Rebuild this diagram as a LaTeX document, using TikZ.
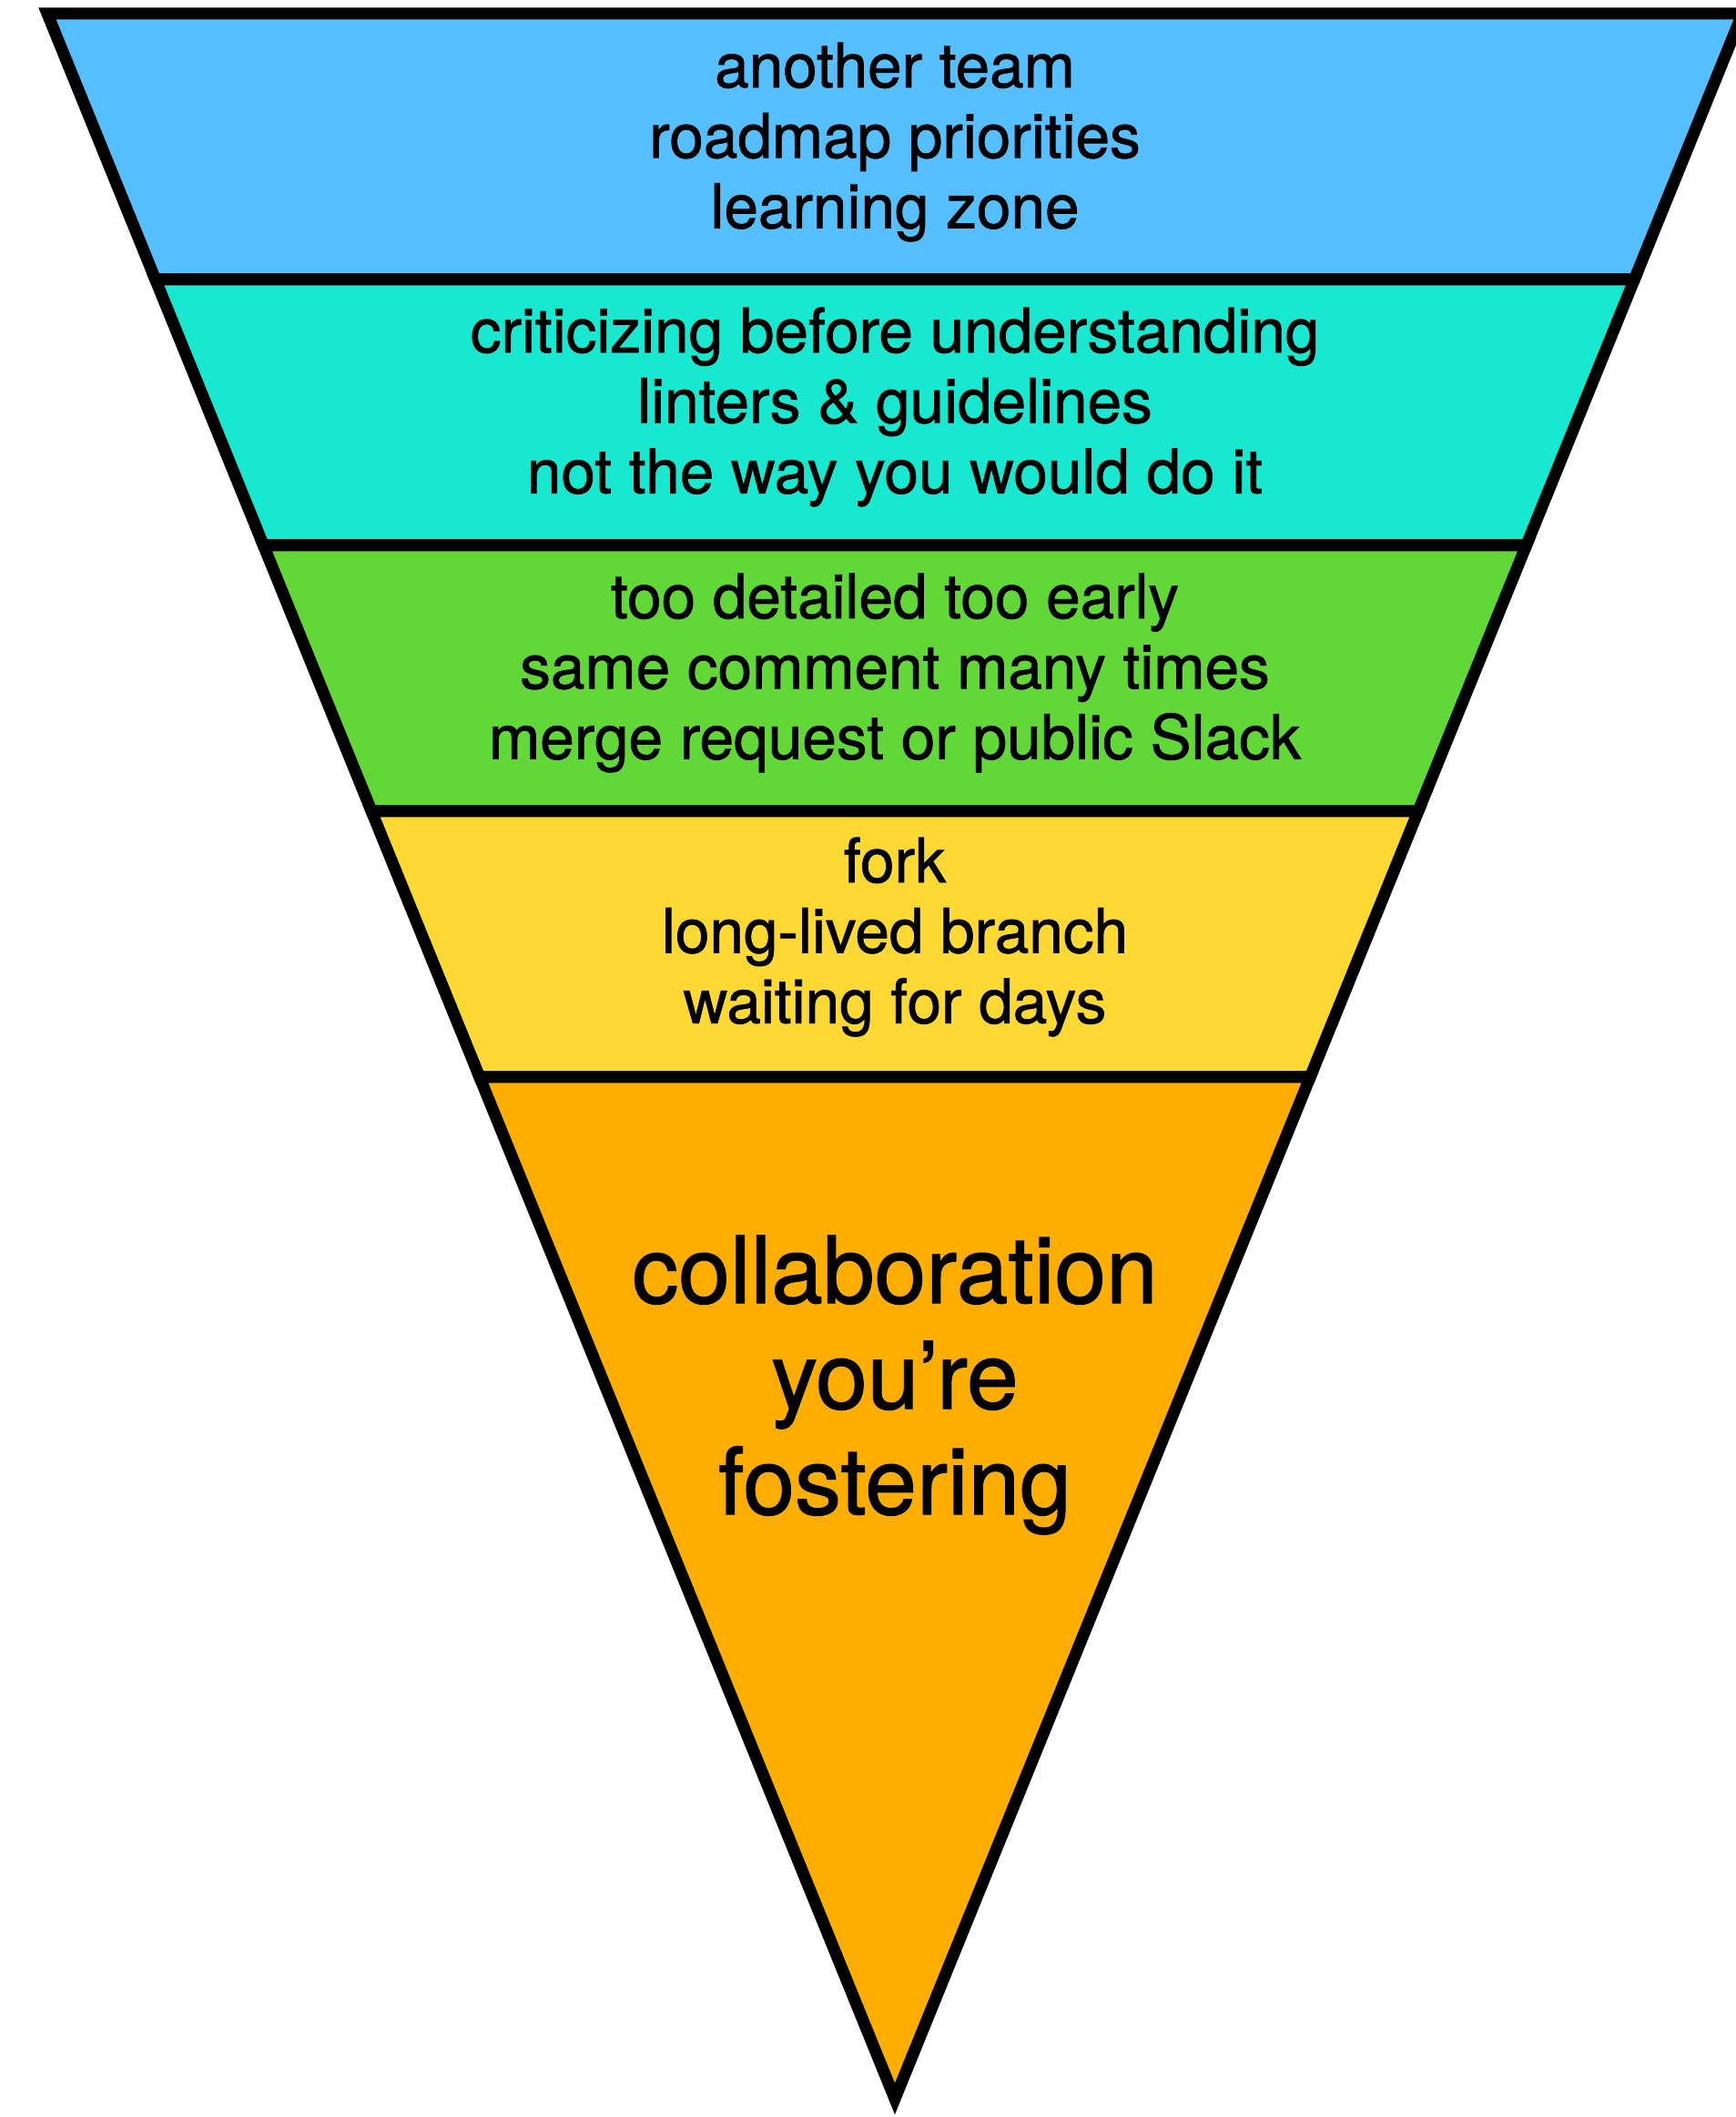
\documentclass[tikz,border=0pt]{standalone}
\usepackage{fontspec}
\setmainfont[FakeBold=1.2,AutoFakeBold=1.2]{TeX Gyre Heros}
\usetikzlibrary{calc}
\definecolor{bandblue}{RGB}{86,191,255}
\definecolor{bandteal}{RGB}{23,232,207}
\definecolor{bandgreen}{RGB}{98,216,56}
\definecolor{bandyellow}{RGB}{254,217,51}
\definecolor{bandorange}{RGB}{253,174,0}
\tikzset{
    band/.style = {draw=black,line width=0.13cm,line join=miter},
    bandtext/.style = {align=center,font=\fontsize{19.2}{22}\selectfont\bfseries},
    bigtext/.style = {align=center,font=\fontsize{29}{33}\selectfont\bfseries},
}

\begin{document}
\begin{tikzpicture}
%
\useasboundingbox (0,0) rectangle (19.06,-23.25);
\coordinate (tl) at (0.52,-0.15);
\coordinate (tr) at (19.14,-0.15);
\coordinate (tip) at (9.83,-23.05);
%
\foreach \i in {1,...,5}{
    \coordinate (l\i) at ($(tl)!{0.1275*\i}!(tip)$);
    \coordinate (r\i) at ($(tr)!{0.1275*\i}!(tip)$);
}
%
\path[band,fill=bandblue] (tl) -- (tr) -- (r1) -- (l1) -- cycle;
\path[band,fill=bandteal] (l1) -- (r1) -- (r2) -- (l2) -- cycle;
\path[band,fill=bandgreen] (l2) -- (r2) -- (r3) -- (l3) -- cycle;
\path[band,fill=bandyellow] (l3) -- (r3) -- (r4) -- (l4) -- cycle;
\path[band,fill=bandorange] (l4) -- (r4) -- (tip) -- cycle;
%
\node[bandtext] at (9.83, -1.56) (team) {another team\\roadmap priorities\\learning zone};
\node[bandtext] at (9.83, -4.47) (style) {criticizing before understanding\\linters \& guidelines\\not the way you would do it};
\node[bandtext] at (9.83, -7.39) (detail) {too detailed too early\\same comment many times\\merge request or public Slack};
\node[bandtext] at (9.83, -10.29) (fork) {fork\\long-lived branch\\waiting for days};
\node[bigtext] at (9.83, -15.21) (collab) {collaboration\\you’re\\fostering};

\end{tikzpicture}
\end{document}
